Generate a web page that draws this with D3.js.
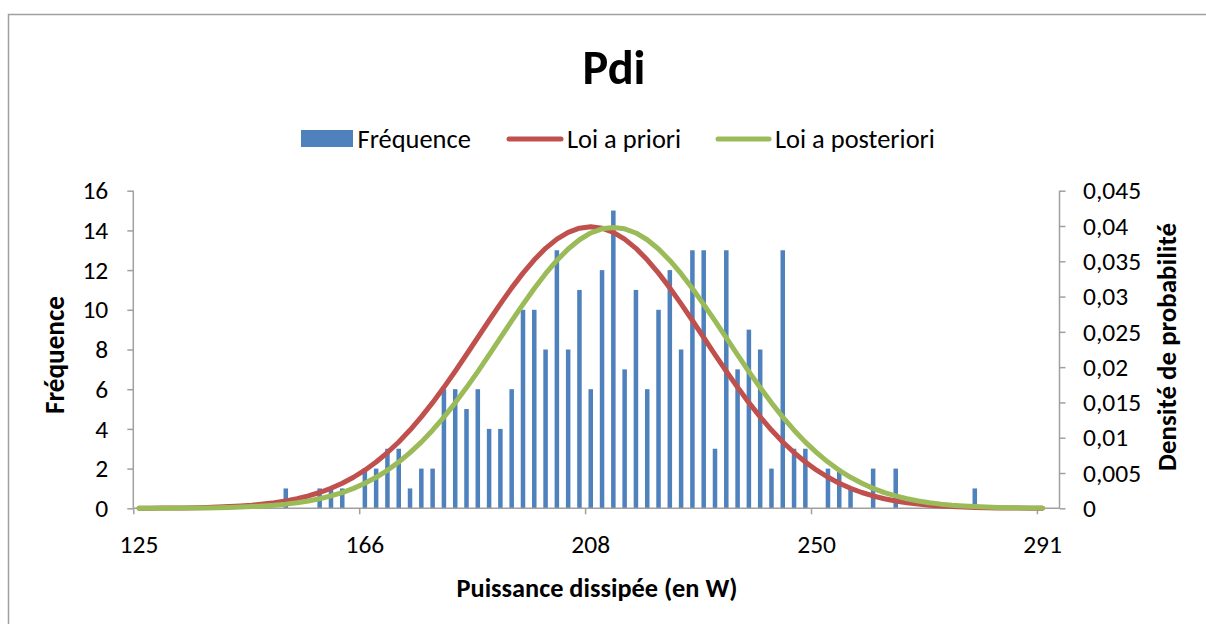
<!DOCTYPE html>
<html>
<head>
<meta charset="utf-8">
<script src="https://cdn.jsdelivr.net/npm/d3@7"></script>
<style>
  body { margin:0; background:#fff; }
  text { font-family: Calibri, Carlito, "Open Sans", sans-serif; fill:#000; }
</style>
</head>
<body>
<svg id="chart" width="1206" height="624"></svg>
<script>
// ---- Data ----
// 82 histogram bins (last one is the "Autre" bin); index used as category
const categories = d3.range(82);
const tickIndex = [0, 20, 40, 60, 80];
const tickLabels = ["125", "166", "208", "250", "291"];
const frequence = [
  0,0,0,0,0,0,0,0,0,0, 0,0,0,1,0,0,1,1,1,0,
  2,2,3,3,1,2,2,6,6,5, 6,4,4,6,10,10,8,13,8,11,
  6,12,15,7,11,6,10,12,8,13, 13,3,13,7,9,8,2,13,3,3,
  0,2,2,1,0,2,0,2,0,0, 0,0,0,0,1,0,0,0,0,0,
  0,0
];
const loiPriori = [
  0.00001,0.00002,0.00003,0.00004,0.00006,0.00009,0.00012,0.00017,0.00024,0.00033,
  0.00044,0.00060,0.00079,0.00104,0.00136,0.00175,0.00224,0.00283,0.00355,0.00440,
  0.00540,0.00656,0.00790,0.00940,0.01109,0.01295,0.01497,0.01714,0.01942,0.02179,
  0.02420,0.02661,0.02897,0.03123,0.03332,0.03521,0.03683,0.03814,0.03910,0.03969,
  0.03989,0.03969,0.03910,0.03814,0.03683,0.03521,0.03332,0.03123,0.02897,0.02661,
  0.02420,0.02179,0.01942,0.01714,0.01497,0.01295,0.01109,0.00940,0.00790,0.00656,
  0.00540,0.00440,0.00355,0.00283,0.00224,0.00175,0.00136,0.00104,0.00079,0.00060,
  0.00044,0.00033,0.00024,0.00017,0.00012,0.00009,0.00006,0.00004,0.00003,0.00002,
  0.00001
];
const loiPosteriori = [
  0.00000,0.00001,0.00001,0.00002,0.00003,0.00004,0.00006,0.00009,0.00012,0.00017,
  0.00024,0.00033,0.00044,0.00059,0.00079,0.00104,0.00135,0.00175,0.00223,0.00282,
  0.00354,0.00439,0.00539,0.00655,0.00788,0.00938,0.01107,0.01292,0.01494,0.01710,
  0.01937,0.02173,0.02414,0.02655,0.02890,0.03115,0.03324,0.03512,0.03674,0.03805,
  0.03901,0.03960,0.03980,0.03960,0.03901,0.03805,0.03674,0.03512,0.03324,0.03115,
  0.02890,0.02655,0.02414,0.02173,0.01937,0.01710,0.01494,0.01292,0.01107,0.00938,
  0.00788,0.00655,0.00539,0.00439,0.00354,0.00282,0.00223,0.00175,0.00135,0.00104,
  0.00079,0.00059,0.00044,0.00033,0.00024,0.00017,0.00012,0.00009,0.00006,0.00004,
  0.00003
];
const leftTicks = [0,2,4,6,8,10,12,14,16];
const rightTicks = [0,0.005,0.01,0.015,0.02,0.025,0.03,0.035,0.04,0.045];
const seriesNames = ["Fréquence", "Loi a priori", "Loi a posteriori"];
const colors = { bar:"#4F81BD", priori:"#C0504D", post:"#9BBB59", axis:"#A0A0A0" };

// ---- Layout ----
const svg = d3.select("#chart");
const L = 133.3, R = 1059.5, T = 190.7, B = 508.3;

function fit(sel, target) {
  const base = 20;
  sel.style("font-size", base + "px");
  const w = sel.node().getComputedTextLength();
  sel.style("font-size", (base * target / w) + "px");
  return sel;
}

// outer chart border
svg.append("rect").attr("x", 8.5).attr("y", 14.5).attr("width", 1300).attr("height", 700)
  .attr("fill", "none").attr("stroke", "#A0A0A0").attr("stroke-width", 1.5);

const x = d3.scaleBand().domain(categories).range([L, R]).padding(0);
const xb = d3.scaleLinear().domain([0, categories.length]).range([L, R]);
const yL = d3.scaleLinear().domain([0, 16]).range([B, T]);
const yR = d3.scaleLinear().domain([0, 0.045]).range([B, T]);
const fr = d3.formatLocale({decimal:",", thousands:" ", grouping:[3], currency:["","€"]}).format(".3~f");

// bars
const bw = x.bandwidth() / 2.5;
svg.append("g").selectAll("rect").data(frequence).join("rect")
  .attr("x", (d, i) => x(categories[i]) + (x.bandwidth() - bw) / 2)
  .attr("width", bw)
  .attr("y", d => yL(d))
  .attr("height", d => B - yL(d))
  .attr("fill", colors.bar);

// axes
const gL = svg.append("g").attr("transform", `translate(${L},0)`)
  .call(d3.axisLeft(yL).tickValues(leftTicks).tickSize(6).tickPadding(19));
const gR = svg.append("g").attr("transform", `translate(${R},0)`)
  .call(d3.axisRight(yR).tickValues(rightTicks).tickSize(6).tickPadding(17.5).tickFormat(fr));
const gXt = svg.append("g").attr("transform", `translate(0,${B})`)
  .call(d3.axisBottom(xb).tickValues(tickIndex).tickSize(6).tickFormat(""));
const gX = svg.append("g").attr("transform", `translate(0,${B})`)
  .call(d3.axisBottom(x).tickValues(tickIndex).tickSize(0).tickPadding(27)
        .tickFormat((d) => tickLabels[tickIndex.indexOf(d)]));
[gL, gR, gXt, gX].forEach(g => {
  g.attr("font-size", null).attr("font-family", null);
  g.selectAll("path").attr("stroke", colors.axis).attr("stroke-width", 1.5);
  g.selectAll("line").attr("stroke", colors.axis).attr("stroke-width", 1.5);
  g.selectAll("text").style("font-size", "25.5px").attr("fill", "#000")
   .style("font-family", 'Calibri, Carlito, "Open Sans", sans-serif');
});
gX.select("path").remove();
gXt.select("path").attr("d", `M${L},0H${R}`);
gL.select("path").attr("d", `M0,${B}V${T}`);
gR.select("path").attr("d", `M0,${B}V${T}`);

// lines
const line = d3.line().x((d, i) => x(categories[i]) + x.bandwidth() / 2).y(d => yR(d));
svg.append("path").datum(loiPriori).attr("d", line).attr("fill", "none")
  .attr("stroke", colors.priori).attr("stroke-width", 5).attr("stroke-linecap", "round").attr("stroke-linejoin", "round");
svg.append("path").datum(loiPosteriori).attr("d", line).attr("fill", "none")
  .attr("stroke", colors.post).attr("stroke-width", 5).attr("stroke-linecap", "round").attr("stroke-linejoin", "round");

// title
fit(svg.append("text").attr("x", 614).attr("y", 84).attr("text-anchor", "middle")
  .style("font-weight", "bold").text("Pdi"), 63);

// axis titles
fit(svg.append("text").attr("transform", "translate(64,355) rotate(-90)").attr("text-anchor", "middle")
  .style("font-weight", "bold").text("Fréquence"), 118);
fit(svg.append("text").attr("transform", "translate(1176,347) rotate(-90)").attr("text-anchor", "middle")
  .style("font-weight", "bold").text("Densité de probabilité"), 248);
fit(svg.append("text").attr("x", 597).attr("y", 597).attr("text-anchor", "middle")
  .style("font-weight", "bold").text("Puissance dissipée (en W)"), 281);

// legend
const lg = svg.append("g");
lg.append("rect").attr("x", 301).attr("y", 130).attr("width", 52).attr("height", 17).attr("fill", colors.bar);
lg.append("line").attr("x1", 509).attr("x2", 561).attr("y1", 139).attr("y2", 139)
  .attr("stroke", colors.priori).attr("stroke-width", 5).attr("stroke-linecap", "round");
lg.append("line").attr("x1", 718).attr("x2", 769).attr("y1", 139).attr("y2", 139)
  .attr("stroke", colors.post).attr("stroke-width", 5).attr("stroke-linecap", "round");
const legX = [357.5, 567, 775];
const lt = seriesNames.map((n, i) => lg.append("text").attr("x", legX[i]).attr("y", 147.5).text(n));
fit(lt[2], 160);
const fs = lt[2].style("font-size");
lt[0].style("font-size", fs); lt[1].style("font-size", fs);
</script>
</body>
</html>
